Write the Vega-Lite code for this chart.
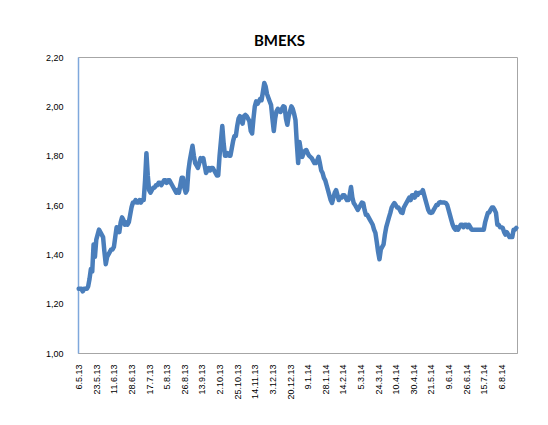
{
  "$schema": "https://vega.github.io/schema/vega-lite/v6.json",
  "autosize": "none",
  "width": 439,
  "height": 296,
  "padding": {"left": 78, "top": 57, "right": 31, "bottom": 72},
  "background": "white",
  "title": {"text": "BMEKS", "font": "Lato", "fontSize": 15, "fontWeight": "bold", "color": "#000000", "anchor": "middle", "dx": -18, "offset": 4},
  "config": {"view": {"stroke": "#a6a6a6", "strokeWidth": 1}},
  "data": {"values": [
    {"d":"6.5.13","v":1.26},{"d":"7.5.13","v":1.26},{"d":"8.5.13","v":1.26},{"d":"9.5.13","v":1.25},{"d":"10.5.13","v":1.26},{"d":"13.5.13","v":1.26},{"d":"14.5.13","v":1.26},{"d":"15.5.13","v":1.27},{"d":"16.5.13","v":1.30},{"d":"17.5.13","v":1.34},
    {"d":"20.5.13","v":1.33},{"d":"21.5.13","v":1.44},{"d":"22.5.13","v":1.39},{"d":"23.5.13","v":1.46},{"d":"24.5.13","v":1.48},{"d":"27.5.13","v":1.50},{"d":"28.5.13","v":1.49},{"d":"29.5.13","v":1.48},{"d":"30.5.13","v":1.47},{"d":"31.5.13","v":1.41},
    {"d":"3.6.13","v":1.36},{"d":"4.6.13","v":1.39},{"d":"5.6.13","v":1.40},{"d":"6.6.13","v":1.41},{"d":"7.6.13","v":1.42},{"d":"10.6.13","v":1.42},{"d":"11.6.13","v":1.43},{"d":"12.6.13","v":1.47},{"d":"13.6.13","v":1.51},{"d":"14.6.13","v":1.50},
    {"d":"17.6.13","v":1.49},{"d":"18.6.13","v":1.53},{"d":"19.6.13","v":1.55},{"d":"20.6.13","v":1.54},{"d":"21.6.13","v":1.52},{"d":"24.6.13","v":1.53},{"d":"25.6.13","v":1.52},{"d":"26.6.13","v":1.53},{"d":"27.6.13","v":1.56},{"d":"28.6.13","v":1.59},
    {"d":"1.7.13","v":1.61},{"d":"2.7.13","v":1.61},{"d":"3.7.13","v":1.62},{"d":"4.7.13","v":1.61},{"d":"5.7.13","v":1.61},{"d":"8.7.13","v":1.62},{"d":"9.7.13","v":1.61},{"d":"10.7.13","v":1.62},{"d":"11.7.13","v":1.62},{"d":"12.7.13","v":1.70},
    {"d":"15.7.13","v":1.81},{"d":"16.7.13","v":1.72},{"d":"17.7.13","v":1.66},{"d":"18.7.13","v":1.65},{"d":"19.7.13","v":1.66},{"d":"22.7.13","v":1.67},{"d":"23.7.13","v":1.67},{"d":"24.7.13","v":1.68},{"d":"25.7.13","v":1.68},{"d":"26.7.13","v":1.69},
    {"d":"29.7.13","v":1.69},{"d":"30.7.13","v":1.68},{"d":"31.7.13","v":1.69},{"d":"1.8.13","v":1.70},{"d":"2.8.13","v":1.70},{"d":"5.8.13","v":1.69},{"d":"6.8.13","v":1.70},{"d":"7.8.13","v":1.70},{"d":"8.8.13","v":1.69},{"d":"12.8.13","v":1.68},
    {"d":"13.8.13","v":1.67},{"d":"14.8.13","v":1.66},{"d":"16.8.13","v":1.65},{"d":"19.8.13","v":1.66},{"d":"20.8.13","v":1.65},{"d":"21.8.13","v":1.68},{"d":"22.8.13","v":1.71},{"d":"23.8.13","v":1.71},{"d":"26.8.13","v":1.67},{"d":"27.8.13","v":1.65},
    {"d":"28.8.13","v":1.66},{"d":"29.8.13","v":1.74},{"d":"2.9.13","v":1.78},{"d":"3.9.13","v":1.81},{"d":"4.9.13","v":1.84},{"d":"5.9.13","v":1.80},{"d":"6.9.13","v":1.77},{"d":"9.9.13","v":1.76},{"d":"10.9.13","v":1.75},{"d":"11.9.13","v":1.77},
    {"d":"12.9.13","v":1.79},{"d":"13.9.13","v":1.78},{"d":"16.9.13","v":1.79},{"d":"17.9.13","v":1.76},{"d":"18.9.13","v":1.73},{"d":"19.9.13","v":1.74},{"d":"20.9.13","v":1.75},{"d":"23.9.13","v":1.74},{"d":"24.9.13","v":1.75},{"d":"25.9.13","v":1.75},
    {"d":"26.9.13","v":1.74},{"d":"27.9.13","v":1.73},{"d":"30.9.13","v":1.72},{"d":"1.10.13","v":1.72},{"d":"2.10.13","v":1.80},{"d":"3.10.13","v":1.86},{"d":"7.10.13","v":1.92},{"d":"9.10.13","v":1.85},{"d":"10.10.13","v":1.80},{"d":"14.10.13","v":1.80},
    {"d":"15.10.13","v":1.81},{"d":"16.10.13","v":1.80},{"d":"17.10.13","v":1.80},{"d":"21.10.13","v":1.83},{"d":"22.10.13","v":1.86},{"d":"23.10.13","v":1.88},{"d":"24.10.13","v":1.88},{"d":"25.10.13","v":1.92},{"d":"28.10.13","v":1.95},{"d":"29.10.13","v":1.96},
    {"d":"30.10.13","v":1.94},{"d":"31.10.13","v":1.93},{"d":"4.11.13","v":1.96},{"d":"5.11.13","v":1.965},{"d":"6.11.13","v":1.96},{"d":"7.11.13","v":1.95},{"d":"8.11.13","v":1.94},{"d":"11.11.13","v":1.90},{"d":"12.11.13","v":1.89},{"d":"13.11.13","v":1.95},
    {"d":"14.11.13","v":2.00},{"d":"15.11.13","v":2.02},{"d":"18.11.13","v":2.01},{"d":"19.11.13","v":2.02},{"d":"20.11.13","v":2.03},{"d":"21.11.13","v":2.025},{"d":"22.11.13","v":2.06},{"d":"25.11.13","v":2.095},{"d":"26.11.13","v":2.08},{"d":"27.11.13","v":2.05},
    {"d":"28.11.13","v":2.035},{"d":"29.11.13","v":2.02},{"d":"2.12.13","v":2.005},{"d":"3.12.13","v":1.95},{"d":"4.12.13","v":1.90},{"d":"5.12.13","v":1.95},{"d":"6.12.13","v":1.98},{"d":"9.12.13","v":1.99},{"d":"10.12.13","v":1.98},{"d":"11.12.13","v":1.977},
    {"d":"12.12.13","v":1.99},{"d":"13.12.13","v":2.00},{"d":"16.12.13","v":1.997},{"d":"17.12.13","v":1.95},{"d":"18.12.13","v":1.925},{"d":"19.12.13","v":1.96},{"d":"20.12.13","v":1.98},{"d":"23.12.13","v":2.00},{"d":"24.12.13","v":1.99},{"d":"25.12.13","v":1.97},
    {"d":"26.12.13","v":1.945},{"d":"27.12.13","v":1.85},{"d":"30.12.13","v":1.77},{"d":"31.12.13","v":1.855},{"d":"2.1.14","v":1.82},{"d":"3.1.14","v":1.795},{"d":"6.1.14","v":1.81},{"d":"7.1.14","v":1.82},{"d":"8.1.14","v":1.823},{"d":"9.1.14","v":1.81},
    {"d":"10.1.14","v":1.80},{"d":"13.1.14","v":1.795},{"d":"14.1.14","v":1.79},{"d":"15.1.14","v":1.78},{"d":"16.1.14","v":1.77},{"d":"17.1.14","v":1.77},{"d":"20.1.14","v":1.78},{"d":"21.1.14","v":1.795},{"d":"22.1.14","v":1.77},{"d":"23.1.14","v":1.74},
    {"d":"24.1.14","v":1.73},{"d":"27.1.14","v":1.71},{"d":"28.1.14","v":1.70},{"d":"29.1.14","v":1.68},{"d":"30.1.14","v":1.66},{"d":"31.1.14","v":1.64},{"d":"3.2.14","v":1.62},{"d":"4.2.14","v":1.608},{"d":"5.2.14","v":1.63},{"d":"6.2.14","v":1.65},
    {"d":"7.2.14","v":1.66},{"d":"10.2.14","v":1.64},{"d":"11.2.14","v":1.62},{"d":"12.2.14","v":1.63},{"d":"13.2.14","v":1.63},{"d":"14.2.14","v":1.64},{"d":"17.2.14","v":1.64},{"d":"18.2.14","v":1.63},{"d":"19.2.14","v":1.62},{"d":"20.2.14","v":1.62},
    {"d":"21.2.14","v":1.64},{"d":"24.2.14","v":1.673},{"d":"25.2.14","v":1.63},{"d":"26.2.14","v":1.608},{"d":"27.2.14","v":1.60},{"d":"28.2.14","v":1.59},{"d":"3.3.14","v":1.58},{"d":"4.3.14","v":1.59},{"d":"5.3.14","v":1.60},{"d":"6.3.14","v":1.61},
    {"d":"7.3.14","v":1.608},{"d":"10.3.14","v":1.58},{"d":"11.3.14","v":1.56},{"d":"12.3.14","v":1.56},{"d":"13.3.14","v":1.55},{"d":"14.3.14","v":1.54},{"d":"17.3.14","v":1.53},{"d":"18.3.14","v":1.52},{"d":"19.3.14","v":1.50},{"d":"20.3.14","v":1.487},
    {"d":"21.3.14","v":1.45},{"d":"24.3.14","v":1.41},{"d":"25.3.14","v":1.38},{"d":"26.3.14","v":1.42},{"d":"27.3.14","v":1.43},{"d":"28.3.14","v":1.44},{"d":"31.3.14","v":1.48},{"d":"1.4.14","v":1.51},{"d":"2.4.14","v":1.53},{"d":"3.4.14","v":1.55},
    {"d":"4.4.14","v":1.568},{"d":"7.4.14","v":1.59},{"d":"8.4.14","v":1.60},{"d":"9.4.14","v":1.608},{"d":"10.4.14","v":1.60},{"d":"11.4.14","v":1.59},{"d":"14.4.14","v":1.59},{"d":"15.4.14","v":1.58},{"d":"16.4.14","v":1.57},{"d":"17.4.14","v":1.568},
    {"d":"18.4.14","v":1.59},{"d":"22.4.14","v":1.60},{"d":"23.4.14","v":1.61},{"d":"24.4.14","v":1.62},{"d":"25.4.14","v":1.63},{"d":"28.4.14","v":1.62},{"d":"29.4.14","v":1.64},{"d":"30.4.14","v":1.64},{"d":"5.5.14","v":1.63},{"d":"6.5.14","v":1.65},
    {"d":"7.5.14","v":1.64},{"d":"8.5.14","v":1.648},{"d":"9.5.14","v":1.65},{"d":"12.5.14","v":1.65},{"d":"13.5.14","v":1.66},{"d":"14.5.14","v":1.64},{"d":"15.5.14","v":1.62},{"d":"16.5.14","v":1.60},{"d":"19.5.14","v":1.58},{"d":"20.5.14","v":1.57},
    {"d":"21.5.14","v":1.568},{"d":"22.5.14","v":1.57},{"d":"23.5.14","v":1.58},{"d":"26.5.14","v":1.59},{"d":"27.5.14","v":1.60},{"d":"28.5.14","v":1.60},{"d":"29.5.14","v":1.61},{"d":"30.5.14","v":1.612},{"d":"2.6.14","v":1.61},{"d":"3.6.14","v":1.61},
    {"d":"4.6.14","v":1.61},{"d":"5.6.14","v":1.608},{"d":"6.6.14","v":1.60},{"d":"9.6.14","v":1.58},{"d":"10.6.14","v":1.56},{"d":"11.6.14","v":1.54},{"d":"12.6.14","v":1.52},{"d":"13.6.14","v":1.507},{"d":"16.6.14","v":1.50},{"d":"17.6.14","v":1.51},
    {"d":"18.6.14","v":1.50},{"d":"19.6.14","v":1.51},{"d":"20.6.14","v":1.52},{"d":"23.6.14","v":1.52},{"d":"24.6.14","v":1.51},{"d":"25.6.14","v":1.52},{"d":"26.6.14","v":1.52},{"d":"27.6.14","v":1.51},{"d":"30.6.14","v":1.52},{"d":"1.7.14","v":1.51},
    {"d":"2.7.14","v":1.50},{"d":"3.7.14","v":1.50},{"d":"4.7.14","v":1.50},{"d":"7.7.14","v":1.50},{"d":"8.7.14","v":1.50},{"d":"9.7.14","v":1.50},{"d":"10.7.14","v":1.50},{"d":"11.7.14","v":1.50},{"d":"14.7.14","v":1.50},{"d":"15.7.14","v":1.50},
    {"d":"16.7.14","v":1.53},{"d":"17.7.14","v":1.55},{"d":"18.7.14","v":1.568},{"d":"21.7.14","v":1.57},{"d":"22.7.14","v":1.58},{"d":"23.7.14","v":1.59},{"d":"24.7.14","v":1.59},{"d":"25.7.14","v":1.58},{"d":"29.7.14","v":1.568},{"d":"30.7.14","v":1.52},
    {"d":"31.7.14","v":1.52},{"d":"4.8.14","v":1.51},{"d":"6.8.14","v":1.51},{"d":"7.8.14","v":1.507},{"d":"8.8.14","v":1.49},{"d":"11.8.14","v":1.48},{"d":"12.8.14","v":1.49},{"d":"13.8.14","v":1.48},{"d":"14.8.14","v":1.47},{"d":"18.8.14","v":1.47},
    {"d":"19.8.14","v":1.47},{"d":"20.8.14","v":1.50},{"d":"21.8.14","v":1.50},{"d":"22.8.14","v":1.507}
  ]},
  "mark": {"type": "line", "color": "#4a7ebb", "strokeWidth": 4.5, "strokeJoin": "round", "strokeCap": "round"},
  "encoding": {
    "x": {
      "field": "d", "type": "ordinal", "sort": null,
      "scale": {"type": "point", "padding": 0.5},
      "axis": {
        "title": null,
        "values": ["6.5.13","23.5.13","11.6.13","28.6.13","17.7.13","5.8.13","26.8.13","13.9.13","2.10.13","25.10.13","14.11.13","3.12.13","20.12.13","9.1.14","28.1.14","14.2.14","5.3.14","24.3.14","10.4.14","30.4.14","21.5.14","9.6.14","26.6.14","15.7.14","6.8.14"],
        "labelAngle": -90, "labelAlign": "right", "labelBaseline": "middle",
        "labelPadding": 11, "labelFont": "Liberation Sans", "labelFontSize": 9, "labelColor": "#000000",
        "ticks": false, "grid": false, "domainColor": "#a6a6a6", "domainWidth": 1, "labelOverlap": false
      }
    },
    "y": {
      "field": "v", "type": "quantitative",
      "scale": {"domain": [1, 2.2], "nice": false, "zero": false},
      "axis": {
        "title": null,
        "values": [1, 1.2, 1.4, 1.6, 1.8, 2, 2.2],
        "labelExpr": "replace(format(datum.value, '.2f'), '.', ',')",
        "labelPadding": 15, "labelFont": "Liberation Sans", "labelFontSize": 9, "labelColor": "#000000",
        "ticks": false, "grid": false, "domainColor": "#7fa8dc", "domainWidth": 1.5
      }
    }
  }
}
